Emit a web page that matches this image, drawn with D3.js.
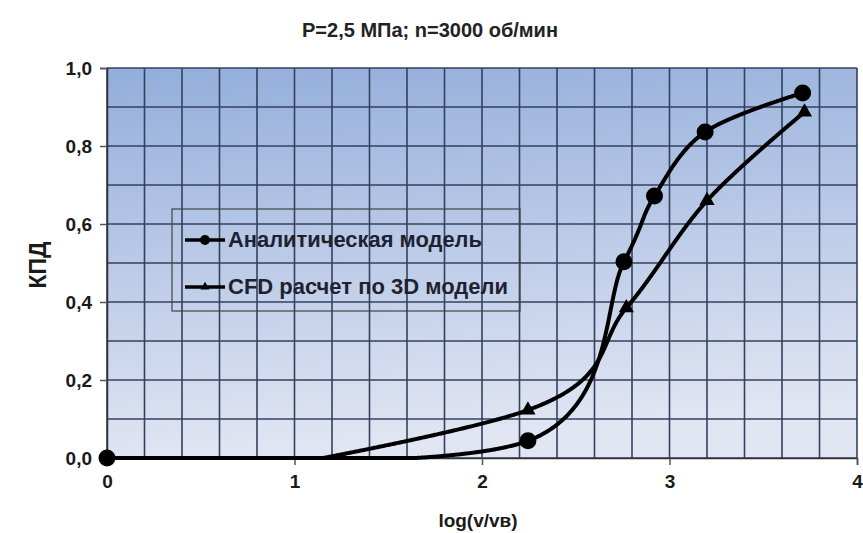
<!DOCTYPE html>
<html>
<head>
<meta charset="utf-8">
<script src="https://cdn.jsdelivr.net/npm/d3@7"></script>
<style>
  body { margin: 0; background: #fff; }
  text { font-family: "Liberation Sans", Arial, sans-serif; font-weight: bold; fill: #1a1a1a; }
</style>
</head>
<body>
<script>
var title = 'P=2,5 МПа; n=3000 об/мин';
var xLabel = 'log(v/vв)';
var yLabel = 'КПД';
var seriesNames = ['Аналитическая модель', 'CFD расчет по 3D модели'];

var analyticX = [0, 2.245, 2.757, 2.92, 3.19, 3.71];
var analyticY = [0, 0.044, 0.503, 0.672, 0.836, 0.936];
var cfdX = [0, 2.245, 2.77, 3.2, 3.72];
var cfdY = [-0.1, 0.123, 0.385, 0.66, 0.887];

var xTicks = [0, 1, 2, 3, 4];
var yTicks = [0, 0.2, 0.4, 0.6, 0.8, 1.0];

var margin = { top: 68, right: 6, bottom: 75, left: 107 };
var width = 863 - margin.left - margin.right;
var height = 533 - margin.top - margin.bottom;

var x = d3.scaleLinear().domain([0, 4]).range([0, width]);
var y = d3.scaleLinear().domain([0, 1]).range([height, 0]);
var fmt = function(d) { return d3.format('.1f')(d).replace('.', ','); };

var svg = d3.select('body').append('svg')
	.attr('width', 863)
	.attr('height', 533);

var defs = svg.append('defs');
var grad = defs.append('linearGradient')
	.attr('id', 'bg')
	.attr('x1', 0).attr('y1', 0).attr('x2', 0.15).attr('y2', 1);
grad.append('stop').attr('offset', '0%').attr('stop-color', '#93aedb');
grad.append('stop').attr('offset', '100%').attr('stop-color', '#e2e6f3');

svg.append('text')
	.attr('x', 430).attr('y', 37)
	.attr('text-anchor', 'middle')
	.style('font-size', '20px')
	.style('fill', '#222')
	.text(title);

var g = svg.append('g')
	.attr('transform', 'translate(' + margin.left + ',' + margin.top + ')');

g.append('rect')
	.attr('width', width).attr('height', height)
	.attr('fill', 'url(#bg)');

// grid
g.append('g').selectAll('line')
	.data(d3.range(0, 4.001, 0.2))
	.join('line')
		.attr('x1', function(d) { return x(d); })
		.attr('x2', function(d) { return x(d); })
		.attr('y1', 0).attr('y2', height)
		.attr('stroke', '#34405e').attr('stroke-width', 1.6);

g.append('g').selectAll('line')
	.data(d3.range(0, 1.001, 0.1))
	.join('line')
		.attr('x1', 0).attr('x2', width)
		.attr('y1', function(d) { return y(d); })
		.attr('y2', function(d) { return y(d); })
		.attr('stroke', '#34405e').attr('stroke-width', 1.6);

// axes
g.append('g')
	.attr('transform', 'translate(0,' + height + ')')
	.call(d3.axisBottom(x).tickValues(xTicks).tickSize(7).tickPadding(10).tickFormat(d3.format('d')))
	.call(function(a) {
		a.select('.domain').attr('stroke', '#333').attr('stroke-width', 1.5);
		a.selectAll('.tick line').attr('stroke', '#555').attr('stroke-width', 1.5);
		a.selectAll('text').style('font-size', '19px').attr('fill', '#1a1a1a');
	});

g.append('g')
	.call(d3.axisLeft(y).tickValues(yTicks).tickSize(7).tickPadding(8).tickFormat(fmt))
	.call(function(a) {
		a.select('.domain').attr('stroke', '#333').attr('stroke-width', 1.5);
		a.selectAll('.tick line').attr('stroke', '#555').attr('stroke-width', 1.5);
		a.selectAll('text').style('font-size', '19px').attr('fill', '#1a1a1a');
	});

svg.append('text')
	.attr('x', 478).attr('y', 527)
	.attr('text-anchor', 'middle')
	.style('font-size', '19px')
	.text(xLabel);

svg.append('text')
	.attr('transform', 'translate(46,' + (margin.top + height / 2 + 2) + ') rotate(-90)')
	.attr('text-anchor', 'middle')
	.style('font-size', '23px')
	.text(yLabel);

// smoothed lines, values below the axis held at zero
var line = d3.line()
	.x(function(d) { return x(d[0]); })
	.y(function(d) { return y(d[1]); })
	.curve(d3.curveCardinal);

function drawSeries(xs, ys) {
	var pts = d3.zip(xs, ys);
	var tmp = g.append('path').attr('d', line(pts)).attr('fill', 'none');
	var node = tmp.node();
	var len = node.getTotalLength();
	var sampled = d3.range(0, len + 1, 1).map(function(l) {
		var p = node.getPointAtLength(Math.min(l, len));
		return [p.x, Math.min(p.y, y(0))];
	});
	tmp.remove();
	g.append('path')
		.attr('d', d3.line()(sampled))
		.attr('fill', 'none')
		.attr('stroke', '#000')
		.attr('stroke-width', 4)
		.attr('stroke-linejoin', 'round');
	return pts.filter(function(d) { return d[1] >= 0; });
}

var aPts = drawSeries(analyticX, analyticY);
var cPts = drawSeries(cfdX, cfdY);

var tri = d3.symbol().type(d3.symbolTriangle).size(100);

g.append('g').selectAll('path')
	.data(cPts)
	.join('path')
		.attr('transform', function(d) { return 'translate(' + x(d[0]) + ',' + y(d[1]) + ')'; })
		.attr('d', tri)
		.attr('fill', '#000');

g.append('g').selectAll('circle')
	.data(aPts)
	.join('circle')
		.attr('cx', function(d) { return x(d[0]); })
		.attr('cy', function(d) { return y(d[1]); })
		.attr('r', 8.5)
		.attr('fill', '#000');

// legend
var legend = svg.append('g').attr('transform', 'translate(172,209)');
legend.append('rect')
	.attr('width', 348).attr('height', 102)
	.attr('fill', 'none')
	.attr('stroke', '#444').attr('stroke-width', 1.2);

var rows = legend.selectAll('g.item')
	.data(seriesNames)
	.join('g')
		.attr('class', 'item')
		.attr('transform', function(d, i) { return 'translate(0,' + (31 + i * 47) + ')'; });

rows.append('line')
	.attr('x1', 13).attr('x2', 53)
	.attr('stroke', '#000').attr('stroke-width', 3.5);

rows.each(function(d, i) {
	var r = d3.select(this);
	if (i === 0) {
		r.append('circle').attr('cx', 33).attr('r', 5).attr('fill', '#000');
	} else {
		r.append('path').attr('transform', 'translate(33,0)')
			.attr('d', d3.symbol().type(d3.symbolTriangle).size(35)).attr('fill', '#000');
	}
});

rows.append('text')
	.attr('x', 56).attr('y', 7)
	.style('font-size', '21.5px')
	.style('fill', '#1e2230')
	.attr('textLength', function(d, i) { return i === 0 ? 254 : 280; })
	.attr('lengthAdjust', 'spacingAndGlyphs')
	.text(function(d) { return d; });
</script>
</body>
</html>
